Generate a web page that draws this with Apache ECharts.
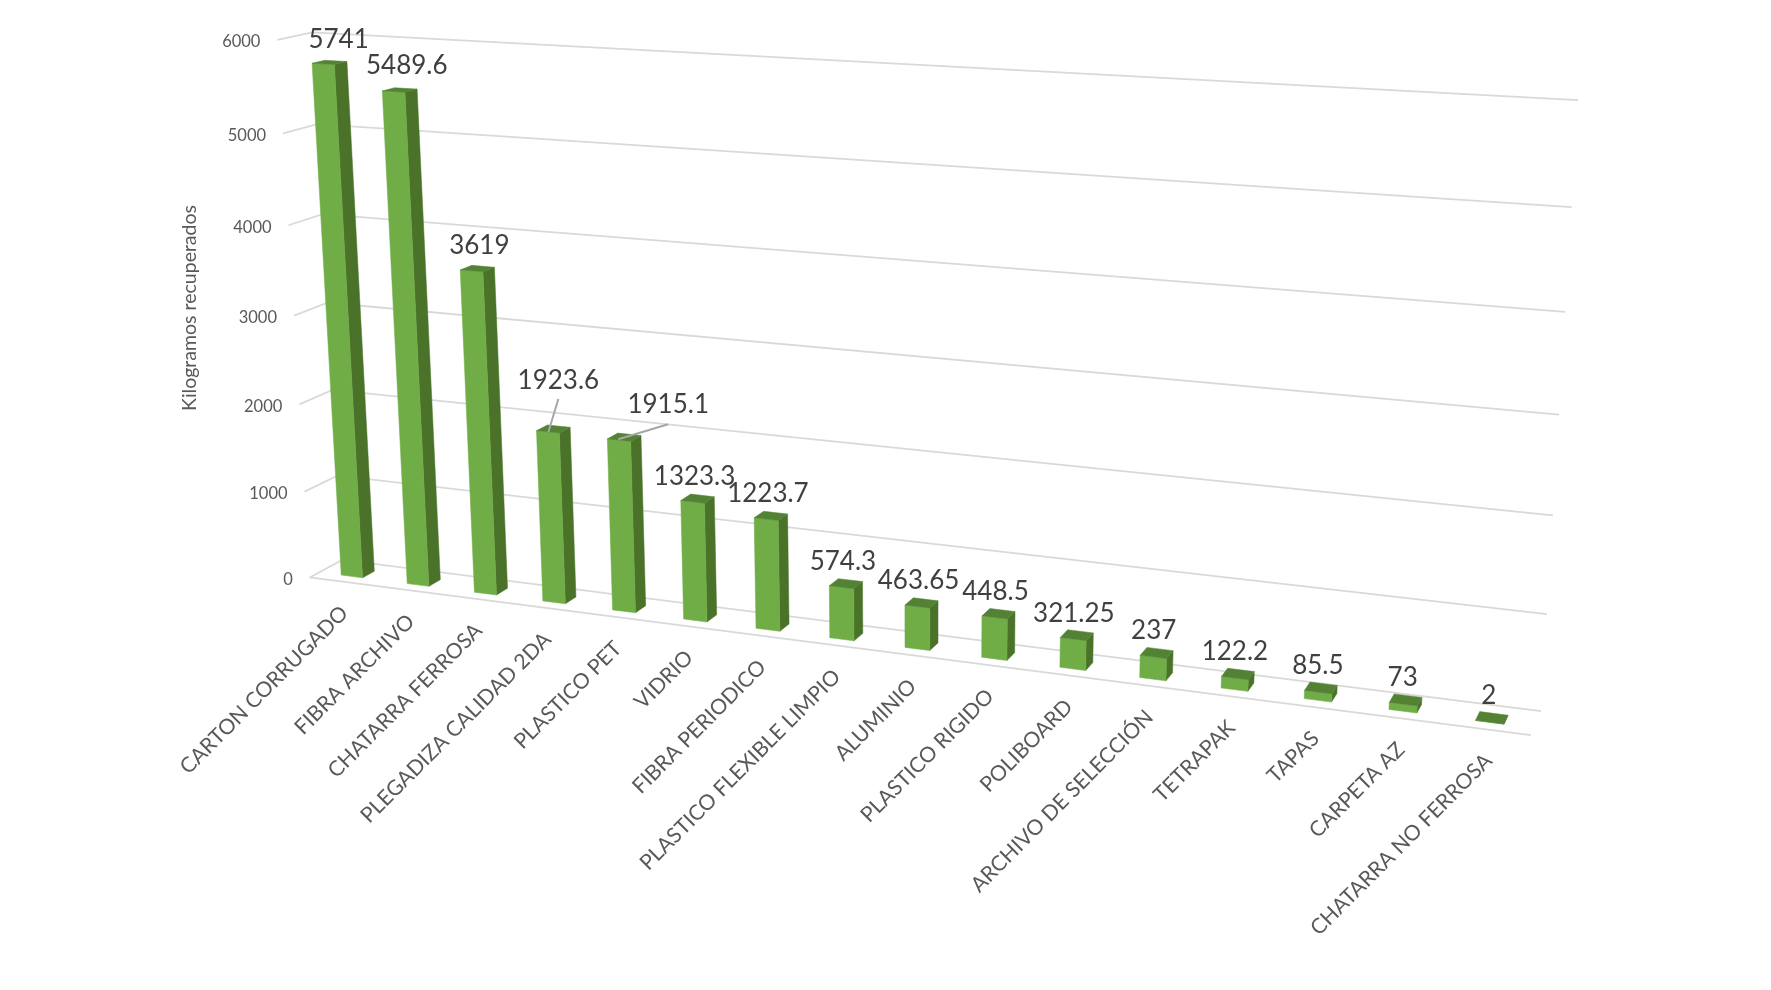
<!DOCTYPE html>
<html><head><meta charset="utf-8">
<style>html,body{margin:0;padding:0;background:#fff}#c{width:1771px;height:990px}</style>
<script src="https://cdn.jsdelivr.net/npm/echarts@6/dist/echarts.min.js"></script>
</head><body><div id="c"></div>
<script>
var categories = ['CARTON CORRUGADO','FIBRA ARCHIVO','CHATARRA FERROSA','PLEGADIZA CALIDAD 2DA','PLASTICO PET','VIDRIO','FIBRA PERIODICO','PLASTICO FLEXIBLE LIMPIO','ALUMINIO','PLASTICO RIGIDO','POLIBOARD','ARCHIVO DE SELECCIÓN','TETRAPAK','TAPAS','CARPETA AZ','CHATARRA NO FERROSA'];
var values = [5741,5489.6,3619,1923.6,1915.1,1323.3,1223.7,574.3,463.65,448.5,321.25,237,122.2,85.5,73,2];
var yTicks = [0,1000,2000,3000,4000,5000,6000];
var axisTitle = 'Kilogramos recuperados';

// camera calibration: plane coordinates (u along categories, v up the value axis, d toward the viewer) -> screen
var calib = [
 [0,0,0,342,560],[1,0,0,1541,711],[0,1,0,313,32],[1,1,0,1578,100],
 [0,0,1,310,577],[1,0,1,1531,735],[0,1,1,277,40],
 [0,.5,0,327,303],[1,.5,0,1559,415],[0,.5,1,294,316]
];
function solveCamera(){
  var rows=[],rhs=[];
  calib.forEach(function(c){
    var X=c[0],Y=c[1],Z=c[2],sx=c[3]/1000,sy=c[4]/1000;
    rows.push([X,Y,Z,1,0,0,0,0,-sx*X,-sx*Y,-sx*Z]);rhs.push(sx);
    rows.push([0,0,0,0,X,Y,Z,1,-sy*X,-sy*Y,-sy*Z]);rhs.push(sy);
  });
  var n=11,A=[],i,j,k;
  for(i=0;i<n;i++){A.push(new Array(n+1).fill(0));
    for(j=0;j<n;j++)for(k=0;k<rows.length;k++)A[i][j]+=rows[k][i]*rows[k][j];
    for(k=0;k<rows.length;k++)A[i][n]+=rows[k][i]*rhs[k];}
  for(i=0;i<n;i++){var m=i;for(j=i+1;j<n;j++)if(Math.abs(A[j][i])>Math.abs(A[m][i]))m=j;
    var t=A[i];A[i]=A[m];A[m]=t;
    for(j=0;j<n;j++){if(j===i)continue;var f=A[j][i]/A[i][i];for(k=i;k<=n;k++)A[j][k]-=f*A[i][k];}}
  return A.map(function(r,i){return r[n]/r[i];});
}
var P=solveCamera();
function proj(u,v,d){
  var w=P[8]*u+P[9]*v+P[10]*d+1;
  return [1000*(P[0]*u+P[1]*v+P[2]*d+P[3])/w,1000*(P[4]*u+P[5]*v+P[6]*d+P[7])/w];
}
var barFrac=0.325,dFront=0.71,dBack=0.34;
var FONT='Lato, Carlito, "Open Sans", sans-serif';
var labelNudge={0:[9,-23],1:[7,-24],2:[2,-23],3:[5,-48],4:[44,-33]};
var leaderNudge={3:[[-5,3],[0,18]],4:[[-6,2],[0,20]]};
function planeOf(api,params,i,val){
  var cs=params.coordSys,p=api.coord([i,val]);
  return {u:(p[0]-cs.x)/cs.width,v:1-(p[1]-cs.y)/cs.height,du:api.size([1,0])[0]/cs.width};
}
function poly(pts,fill){return {type:'polygon',shape:{points:pts},style:{fill:fill,stroke:fill,lineWidth:0.5}};}
function line(pts,col,w){return {type:'polyline',shape:{points:pts},style:{fill:'none',stroke:col,lineWidth:w}};}

var option={
  backgroundColor:'#ffffff',animation:false,
  grid:{left:212,top:20,width:1300,height:576,containLabel:false},
  xAxis:{type:'category',data:categories,show:false},
  yAxis:{type:'value',min:0,max:6000,interval:1000,
    name:axisTitle,nameLocation:'middle',nameRotate:90,nameGap:12,
    nameTextStyle:{color:'#595959',fontFamily:FONT,fontSize:19.5},
    axisLine:{show:false},axisTick:{show:false},axisLabel:{show:false},splitLine:{show:false}},
  series:[
   {name:'grid',type:'custom',clip:false,silent:true,z:1,
    data:yTicks.map(function(t){return [0,t];}),
    renderItem:function(params,api){
      var t=api.value(1),g=planeOf(api,params,0,t),v=g.v,kids=[];
      var f=proj(0,v,1);
      kids.push(line([f,proj(0,v,0),proj(1,v,0)],'#D9D9D9',1.8));
      if(t===0)kids.push(line([f,proj(1,v,1)],'#D9D9D9',1.8));
      kids.push({type:'text',style:{text:String(t),x:f[0]-17,y:f[1]+2,align:'right',verticalAlign:'middle',fill:'#595959',font:'16.5px '+FONT}});
      return {type:'group',children:kids};
    }},
   {name:'bars',type:'custom',clip:false,silent:true,z:2,
    data:values.map(function(v,i){return [i,v];}),
    renderItem:function(params,api){
      var i=api.value(0),g=planeOf(api,params,i,api.value(1));
      var h=g.du*barFrac/2,u0=g.u-h,u1=g.u+h,v=g.v;
      return {type:'group',children:[
        poly([proj(u1,0,dFront),proj(u1,0,dBack),proj(u1,v,dBack),proj(u1,v,dFront)],'#4A7229'),
        poly([proj(u0,0,dFront),proj(u1,0,dFront),proj(u1,v,dFront),proj(u0,v,dFront)],'#70AD47'),
        poly([proj(u0,v,dFront),proj(u1,v,dFront),proj(u1,v,dBack),proj(u0,v,dBack)],'#548235')
      ]};
    }},
   {name:'labels',type:'custom',clip:false,silent:true,z:3,
    data:values.map(function(v,i){return [i,v];}),
    renderItem:function(params,api){
      var i=api.value(0),val=api.value(1),g=planeOf(api,params,i,val),kids=[];
      var top=proj(g.u,g.v,(dFront+dBack)/2),n=labelNudge[i]||[-3,-22];
      var lx=top[0]+n[0],ly=top[1]+n[1];
      kids.push({type:'text',z2:5,style:{text:String(val),x:lx,y:ly,align:'center',verticalAlign:'middle',fill:'#404040',font:'26px '+FONT}});
      var ln=leaderNudge[i];
      if(ln)kids.push(line([[top[0]+ln[0][0],top[1]+ln[0][1]],[lx+ln[1][0],ly+ln[1][1]]],'#A6A6A6',2));
      var base=proj(g.u,0,1);
      kids.push({type:'text',x:base[0]+2,y:base[1]+28,rotation:Math.PI/4,style:{text:categories[i],x:0,y:0,align:'right',verticalAlign:'middle',fill:'#595959',font:'21.2px '+FONT}});
      return {type:'group',children:kids};
    }}
  ]
};
var chart=echarts.init(document.getElementById('c'),null,{renderer:'canvas'});
chart.setOption(option);
</script></body></html>
